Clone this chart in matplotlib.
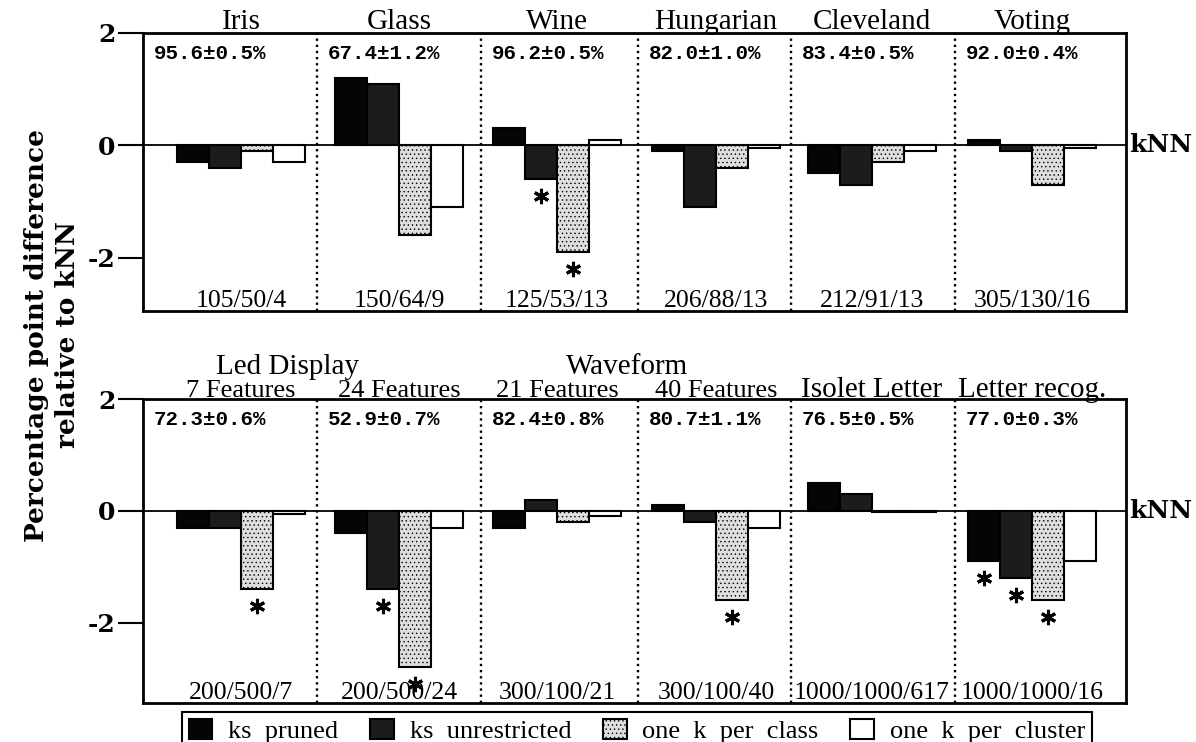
import numpy as np
import matplotlib.pyplot as plt
from matplotlib.patches import Patch

plt.rcParams["font.family"] = ["Liberation Serif", "DejaVu Serif"]
plt.rcParams["hatch.linewidth"] = 0.5

methods = ["ks  pruned", "ks  unrestricted", "one  k  per  class", "one  k  per  cluster"]

# upper row of data sets
top_names = ["Iris", "Glass", "Wine", "Hungarian", "Cleveland", "Voting"]
top_acc = ["95.6±0.5%", "67.4±1.2%", "96.2±0.5%", "82.0±1.0%", "83.4±0.5%", "92.0±0.4%"]
top_sizes = ["105/50/4", "150/64/9", "125/53/13", "206/88/13", "212/91/13", "305/130/16"]
top_pruned = [-0.3, 1.2, 0.3, -0.1, -0.5, 0.1]
top_unrestricted = [-0.4, 1.1, -0.6, -1.1, -0.7, -0.1]
top_class = [-0.1, -1.6, -1.9, -0.4, -0.3, -0.7]
top_cluster = [-0.3, -1.1, 0.1, -0.05, -0.1, -0.05]
top_sig = [(2, 1), (2, 2)]  # (data set, method) marked with *

# lower row of data sets
bottom_groups = ["Led Display", "Waveform"]
bottom_names = ["7 Features", "24 Features", "21 Features", "40 Features", "Isolet Letter", "Letter recog."]
bottom_acc = ["72.3±0.6%", "52.9±0.7%", "82.4±0.8%", "80.7±1.1%", "76.5±0.5%", "77.0±0.3%"]
bottom_sizes = ["200/500/7", "200/500/24", "300/100/21", "300/100/40", "1000/1000/617", "1000/1000/16"]
bottom_pruned = [-0.3, -0.4, -0.3, 0.1, 0.5, -0.9]
bottom_unrestricted = [-0.3, -1.4, 0.2, -0.2, 0.3, -1.2]
bottom_class = [-1.4, -2.8, -0.2, -1.6, -0.03, -1.6]
bottom_cluster = [-0.05, -0.3, -0.1, -0.3, -0.03, -0.9]
bottom_sig = [(0, 2), (1, 1), (1, 2), (3, 2), (5, 0), (5, 1), (5, 2)]

# layout in pixels of the 1196x742 figure
FIG_W, FIG_H = 1196, 742
X0, X1 = 143, 1126
EDGES = [143, 317, 481, 638, 791, 955, 1126]
PADS = [34, 18, 12, 14, 17, 13]
BAR_W = 32
GROUP_LABEL_X = [288, 627]

STYLES = [
    dict(facecolor="#050505", edgecolor="black"),
    dict(facecolor="#1c1c1c", edgecolor="black"),
    dict(facecolor="#dedede", edgecolor="black", hatch="...."),
    dict(facecolor="white", edgecolor="black"),
]
SERIF_BOLD = dict(family="DejaVu Serif", fontweight="bold")


def px_box(top, bottom):
    return [X0 / FIG_W, 1 - bottom / FIG_H, (X1 - X0) / FIG_W, (bottom - top) / FIG_H]


def draw_panel(ax, names, acc, sizes, series, sig, ylim, name_sizes, name_pad):
    ax.set_xlim(X0, X1)
    ax.set_ylim(*ylim)
    lefts = np.array(EDGES[:-1]) + np.array(PADS)
    centers = lefts + 2 * BAR_W
    for k, vals in enumerate(series):
        ax.bar(lefts + (k + 0.5) * BAR_W, vals, width=BAR_W, linewidth=1.5,
               zorder=3, **STYLES[k])
    for g, k in sig:
        ax.plot(lefts[g] + (k + 0.5) * BAR_W, series[k][g] - 0.3, marker=(6, 2, 0),
                ms=11, mew=2.2, color="black", zorder=4)
    ax.axhline(0, color="black", lw=1.3, zorder=2)
    for x in EDGES[1:-1]:
        ax.axvline(x, color="black", lw=1.7, linestyle=(0, (1, 1.6)), zorder=1)

    for i in range(len(names)):
        ax.annotate(names[i], xy=(centers[i], 1), xycoords=("data", "axes fraction"),
                    xytext=(0, name_pad), textcoords="offset points", ha="center",
                    va="baseline", fontsize=name_sizes[i], annotation_clip=False)
        ax.annotate(acc[i], xy=(EDGES[i], 1), xycoords=("data", "axes fraction"),
                    xytext=(8, -8), textcoords="offset points", ha="left", va="top",
                    fontsize=15, family="Liberation Mono", fontweight="bold",
                    annotation_clip=False)
        ax.annotate(sizes[i], xy=(centers[i], 0), xycoords=("data", "axes fraction"),
                    xytext=(0, 3), textcoords="offset points", ha="center",
                    va="baseline", fontsize=18.5, annotation_clip=False)

    ax.annotate("kNN", xy=(1, 0), xycoords=("axes fraction", "data"), xytext=(2, 0),
                textcoords="offset points", ha="left", va="center", fontsize=18,
                annotation_clip=False, **SERIF_BOLD)

    ax.set_xticks([])
    ax.set_yticks([-2, 0, 2])
    ax.set_yticklabels(["-2", "0", "2"], fontsize=18, **SERIF_BOLD)
    ax.tick_params(axis="y", direction="out", length=18, width=1.5, pad=2)
    for s in ax.spines.values():
        s.set_linewidth(2)
    return centers


fig = plt.figure(figsize=(FIG_W / 100, FIG_H / 100), dpi=100)

ax_top = fig.add_axes(px_box(33, 311))
draw_panel(ax_top, top_names, top_acc, top_sizes,
           [top_pruned, top_unrestricted, top_class, top_cluster], top_sig,
           (-2.95, 2), [21] * 6, 3)

ax_bot = fig.add_axes(px_box(399, 703))
bot_name_sizes = [19 if "Features" in n else 21 for n in bottom_names]
draw_panel(ax_bot, bottom_names, bottom_acc, bottom_sizes,
           [bottom_pruned, bottom_unrestricted, bottom_class, bottom_cluster], bottom_sig,
           (-3.44, 2), bot_name_sizes, 1.5)
for label, x in zip(bottom_groups, GROUP_LABEL_X):
    ax_bot.annotate(label, xy=(x, 1), xycoords=("data", "axes fraction"), xytext=(0, 18),
                    textcoords="offset points", ha="center", va="baseline", fontsize=21,
                    annotation_clip=False)

fig.text(52 / FIG_W, 1 - 335 / FIG_H, "Percentage point difference\nrelative to kNN",
         rotation=90, ha="center", va="center", multialignment="center",
         fontsize=19, linespacing=1.3, **SERIF_BOLD)

handles = [Patch(linewidth=1.5, **st) for st in STYLES]
leg = fig.legend(handles, methods, loc="upper left", ncol=4, mode="expand",
                 bbox_to_anchor=(182 / FIG_W, 0, 910 / FIG_W, 1 - 712 / FIG_H),
                 fontsize=19, fancybox=False, framealpha=1, edgecolor="black",
                 borderpad=0.25, borderaxespad=0, handlelength=0.9, handleheight=0.8,
                 handletextpad=0.6)
leg.get_frame().set_linewidth(1.5)

fig.savefig("out.png", dpi=100)
